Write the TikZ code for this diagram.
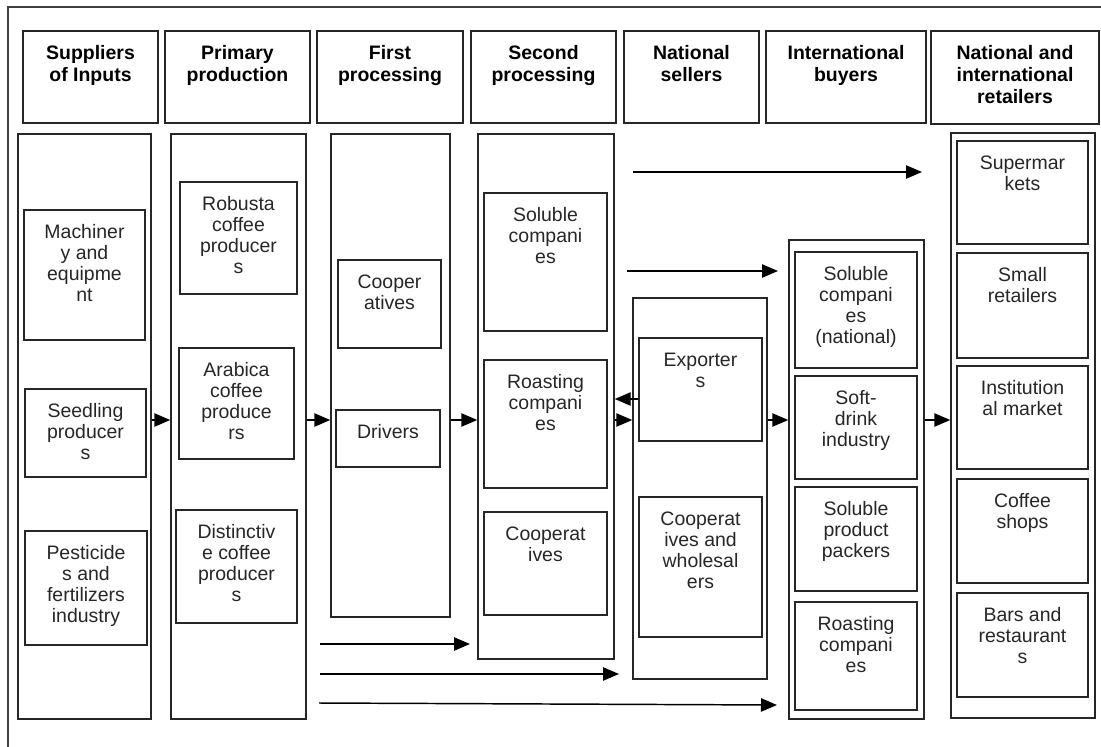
\documentclass[tikz,border=0pt]{standalone}
\usepackage{fontspec}
\setmainfont{Liberation Sans}
\usetikzlibrary{arrows.meta,calc}
\tikzset{
  bxs/.style={draw=black!85, line width=1.1pt, inner sep=0pt},
  txs/.style={inner sep=0pt, anchor=base, text=black!85, font=\fontsize{14.6}{15.75}\selectfont},
  hds/.style={inner sep=0pt, anchor=base, text=black, font=\fontsize{14.6}{16.5}\selectfont\bfseries},
  arr/.style={draw=black, line width=1.1pt, -{Triangle[length=12pt,width=10pt]}},
}
\newcommand{\colbox}[5]{%
  \node[bxs, minimum width={(#4-#2)*0.75pt}, minimum height={(#5-#3)*0.75pt}] (#1) at ({(#2+#4)/2},{(#3+#5)/2}) {};}
\newcommand{\txbox}[7]{%
  \node[bxs, minimum width={(#4-#2)*0.75pt}, minimum height={(#5-#3)*0.75pt}] (#1) at ({(#2+#4)/2},{(#3+#5)/2}) {};
  \node[#6] (#1-t) at ([yshift={-29*0.75pt}]#1.north) {\begin{tabular}[t]{@{}c@{}}#7\end{tabular}};}
\begin{document}
\begin{tikzpicture}[x=0.75pt,y=-0.75pt]
\useasboundingbox (0,0) rectangle (1101,747);
\draw[line width=1pt, draw=black!75] (8,747) -- (8,7) -- (1101,7);
% headers
\txbox{h1}{23}{31}{158}{123}{hds}{Suppliers\\of Inputs}
\txbox{h2}{165}{31}{310}{123}{hds}{Primary\\production}
\txbox{h3}{317}{31}{463}{123}{hds}{First\\processing}
\txbox{h4}{471}{31}{616}{123}{hds}{Second\\processing}
\txbox{h5}{624}{31}{759}{123}{hds}{National\\sellers}
\txbox{h6}{766}{31}{926}{123}{hds}{International\\buyers}
\txbox{h7}{931}{31}{1099}{124}{hds}{National and\\international\\retailers}
% columns
\colbox{c1}{18}{134}{151}{719}
\colbox{c2}{171}{134}{306}{719}
\colbox{c3}{331}{134}{450}{617}
\colbox{c4}{478}{134}{614}{659}
\colbox{c5}{633}{298}{767}{679}
\colbox{c6}{789}{240}{924}{719}
\colbox{c7}{951}{133}{1095}{718}
% column 1
\txbox{mach}{24}{210}{145}{340}{txs}{Machiner\\y and\\equipme\\nt}
\txbox{seed}{25}{389}{146}{477}{txs}{Seedling\\producer\\s}
\txbox{pest}{25}{531}{147}{645}{txs}{Pesticide\\s and\\fertilizers\\industry}
% column 2
\txbox{rob}{180}{182}{297}{294}{txs}{Robusta\\coffee\\producer\\s}
\txbox{arab}{179}{348}{294}{459}{txs}{Arabica\\coffee\\produce\\rs}
\txbox{dist}{176}{510}{297}{623}{txs}{Distinctiv\\e coffee\\producer\\s}
% column 3
\txbox{coop1}{338}{260}{441}{348}{txs}{Cooper\\atives}
\txbox{driv}{336}{410}{440}{467}{txs}{Drivers}
% column 4
\txbox{sol1}{484}{193}{607}{331}{txs}{Soluble\\compani\\es}
\txbox{roast1}{484}{360}{607}{488}{txs}{Roasting\\compani\\es}
\txbox{coop2}{484}{512}{607}{615}{txs}{Cooperat\\ives}
% column 5
\txbox{expo}{639}{338}{762}{441}{txs}{Exporter\\s}
\txbox{whol}{639}{497}{762}{637}{txs}{Cooperat\\ives and\\wholesal\\ers}
% column 6
\txbox{sol2}{795}{252}{917}{368}{txs}{Soluble\\compani\\es\\(national)}
\txbox{soft}{795}{376}{917}{479}{txs}{Soft-\\drink\\industry}
\txbox{pack}{795}{487}{917}{591}{txs}{Soluble\\product\\packers}
\txbox{roast2}{795}{602}{917}{710}{txs}{Roasting\\compani\\es}
% column 7
\txbox{super}{957}{141}{1088}{244}{txs}{Supermar\\kets}
\txbox{small}{957}{253}{1088}{358}{txs}{Small\\retailers}
\txbox{inst}{957}{366}{1088}{469}{txs}{Institution\\al market}
\txbox{shops}{957}{479}{1088}{583}{txs}{Coffee\\shops}
\txbox{bars}{957}{593}{1088}{697}{txs}{Bars and\\restaurant\\s}
% flow arrows
\coordinate (yf) at (0,420);
\draw[arr] (c1.east |- yf) -- (c2.west |- yf);
\draw[arr] (c2.east |- yf) -- (c3.west |- yf);
\draw[arr] (c3.east |- yf) -- (c4.west |- yf);
\draw[arr] (c4.east |- yf) -- (c5.west |- yf);
\draw[arr] (c5.east |- yf) -- (c6.west |- yf);
\draw[arr] (c6.east |- yf) -- (c7.west |- yf);
\coordinate (yb) at (0,399);
\draw[arr] (expo.west |- yb) -- (c4.east |- yb);
% bypass arrows
\coordinate (t1s) at (633,172); \coordinate (t1e) at (922,172);
\coordinate (t2s) at (627,271); \coordinate (t2e) at (778,271);
\coordinate (b1s) at (320,644); \coordinate (b1e) at (470,644);
\coordinate (b2s) at (320,674); \coordinate (b2e) at (619,674);
\coordinate (b3s) at (319,703); \coordinate (b3e) at (777,705);
\draw[arr] (t1s) -- (t1e);
\draw[arr] (t2s) -- (t2e);
\draw[arr] (b1s) -- (b1e);
\draw[arr] (b2s) -- (b2e);
\draw[arr] (b3s) -- (b3e);
\end{tikzpicture}
\end{document}
